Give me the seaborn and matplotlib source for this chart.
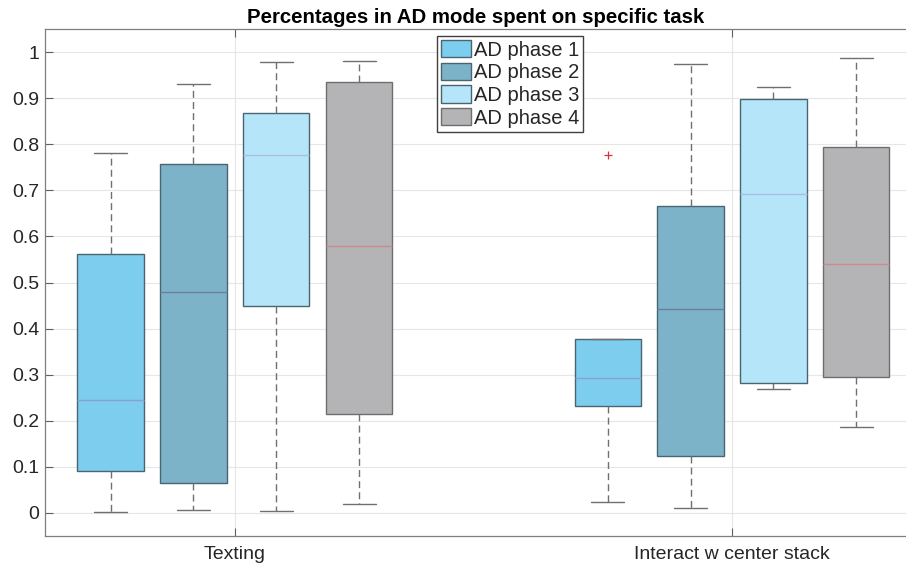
import pandas as pd
import matplotlib.pyplot as plt
import seaborn as sns
from matplotlib.patches import Patch

sns.set_style("white")
plt.rcParams['font.family'] = ['Liberation Sans', 'DejaVu Sans']

tasks = ["Texting", "Interact w center stack"]
phases = ["AD phase 1", "AD phase 2", "AD phase 3", "AD phase 4"]

# five values per box (low whisker, q1, median, q3, high end)
texting_low = [0.002, 0.007, 0.004, 0.019]
texting_q1 = [0.090, 0.064, 0.450, 0.214]
texting_med = [0.244, 0.480, 0.777, 0.579]
texting_q3 = [0.561, 0.757, 0.868, 0.935]
texting_high = [0.780, 0.930, 0.978, 0.981]

interact_low = [0.023, 0.011, 0.270, 0.186]
interact_q1 = [0.232, 0.124, 0.283, 0.294]
interact_med = [0.293, 0.443, 0.692, 0.540]
interact_q3 = [0.378, 0.665, 0.899, 0.794]
interact_high = [0.777, 0.974, 0.924, 0.988]  # phase 1 value is the outlier

colors = ["#7dcdee", "#7db3c9", "#b5e5f8", "#b4b4b6"]
edge_colors = ["#4a6572", "#4a6572", "#4a6572", "#6e6e6e"]
median_colors = ["#8c9fd0", "#6a7fa0", "#a9bde8", "#cc8a8e"]

rows = []
for task, cols in zip(tasks, [
        (texting_low, texting_q1, texting_med, texting_q3, texting_high),
        (interact_low, interact_q1, interact_med, interact_q3, interact_high)]):
    for i, ph in enumerate(phases):
        for arr in cols:
            rows.append({"task": task, "phase": ph, "value": arr[i]})
df = pd.DataFrame(rows)

fig = plt.figure(figsize=(9.06, 5.65), dpi=100)
ax = fig.add_axes([45 / 906, 29 / 565, 1 - 45 / 906, 507 / 565])

sns.boxplot(data=df, x="task", y="value", hue="phase", hue_order=phases,
            order=tasks, palette=colors, saturation=1, width=2 / 3, gap=0.2,
            whis=1.5, linewidth=1.0, linecolor="#6e6e6e", legend=False, ax=ax,
            whiskerprops={"linestyle": (0, (5, 3)), "color": "#707070"},
            capprops={"color": "#707070"},
            medianprops={"linewidth": 1.0},
            flierprops={"marker": "+", "markeredgecolor": "#e0303a",
                        "markersize": 6, "markeredgewidth": 0.9})

for cont, ec, mc in zip(ax.containers, edge_colors, median_colors):
    for b in cont.boxes:
        b.set_edgecolor(ec)
    for m in cont.medians:
        m.set_color(mc)

ax.set_xlim(-0.382, 1.35)
ax.set_ylim(-0.05, 1.05)
ax.set_yticks([i / 10 for i in range(11)])
ax.set_yticklabels([f"{i / 10:g}" for i in range(11)])
ax.set_xlabel("")
ax.set_ylabel("")
ax.grid(True, color="#e6e6e6", linewidth=0.8)
ax.set_axisbelow(True)
for s in ["left", "bottom", "top"]:
    ax.spines[s].set_color("#7f7f7f")
    ax.spines[s].set_linewidth(0.9)
ax.spines["right"].set_visible(False)
ax.tick_params(direction="in", length=6, left=True, bottom=True, top=True,
               right=False, color="#606060", labelsize=14, labelcolor="#262626")
ax.tick_params(axis="x", pad=7)
ax.tick_params(axis="y", pad=4)

ax.set_title("Percentages in AD mode spent on specific task",
             fontsize=14.7, fontweight="bold", pad=4, color="black")

handles = [Patch(facecolor=c, edgecolor=ec, linewidth=1.0, label=p)
           for c, ec, p in zip(colors, edge_colors, phases)]
ax.legend(handles=handles, loc="upper left", bbox_to_anchor=(0.455, 0.986),
          fontsize=14.5, frameon=True, fancybox=False, edgecolor="#404040",
          framealpha=1, handlelength=1.5, handleheight=0.95, handletextpad=0.15,
          labelspacing=0.15, borderpad=0.2, borderaxespad=0)

fig.savefig("out.png", dpi=100)
